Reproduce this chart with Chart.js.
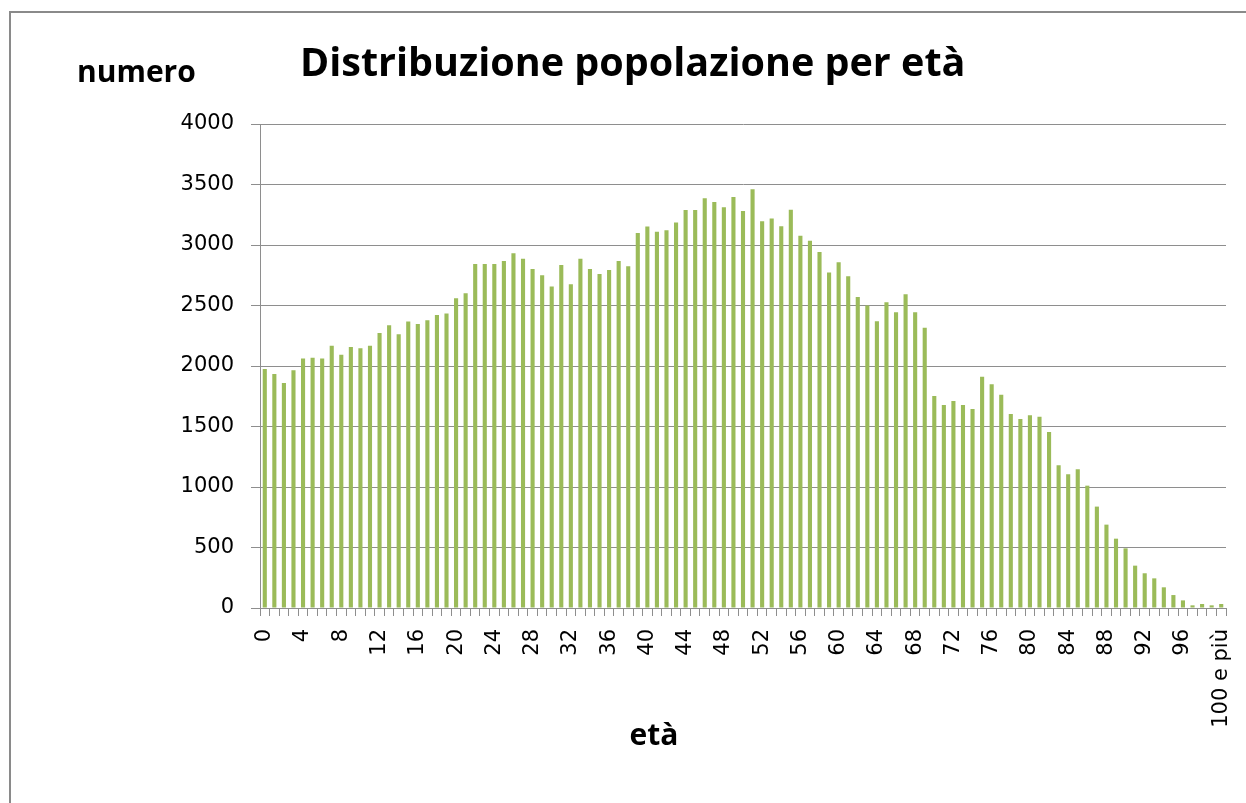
<!DOCTYPE html>
<html>
<head>
<meta charset="utf-8">
<title>Distribuzione popolazione per età</title>
<script src="https://cdn.jsdelivr.net/npm/chart.js@4"></script>
<style>
  html, body { margin: 0; padding: 0; background: #fff; }
  canvas { display: block; }
</style>
</head>
<body>
<canvas id="popChart" width="1246" height="803"></canvas>
<script>
// categories (age)
const ages = [
    '0', '1', '2', '3', '4', '5', '6', '7', '8', '9',
    '10', '11', '12', '13', '14', '15', '16', '17', '18', '19',
    '20', '21', '22', '23', '24', '25', '26', '27', '28', '29',
    '30', '31', '32', '33', '34', '35', '36', '37', '38', '39',
    '40', '41', '42', '43', '44', '45', '46', '47', '48', '49',
    '50', '51', '52', '53', '54', '55', '56', '57', '58', '59',
    '60', '61', '62', '63', '64', '65', '66', '67', '68', '69',
    '70', '71', '72', '73', '74', '75', '76', '77', '78', '79',
    '80', '81', '82', '83', '84', '85', '86', '87', '88', '89',
    '90', '91', '92', '93', '94', '95', '96', '97', '98', '99',
    '100 e più'
];

// number of people per age
const numero = [
    1975, 1934, 1860, 1964, 2061, 2069, 2061, 2168, 2094, 2157,
    2146, 2168, 2273, 2336, 2262, 2367, 2347, 2378, 2422, 2433,
    2559, 2601, 2843, 2843, 2843, 2868, 2931, 2887, 2802, 2749,
    2656, 2835, 2675, 2887, 2802, 2760, 2794, 2868, 2824, 3099,
    3152, 3110, 3121, 3185, 3289, 3289, 3386, 3356, 3312, 3397,
    3281, 3460, 3196, 3218, 3154, 3292, 3077, 3036, 2942, 2772,
    2857, 2741, 2570, 2499, 2369, 2526, 2444, 2592, 2444, 2317,
    1752, 1678, 1711, 1678, 1645, 1912, 1849, 1763, 1603, 1562,
    1592, 1581, 1455, 1179, 1105, 1146, 1011, 838, 689, 573,
    493, 350, 287, 245, 171, 107, 63, 22, 33, 22,
    33
];

// tick labels shown on the x axis
const shownTicks = [
    '0', '4', '8', '12', '16', '20', '24', '28', '32', '36', '40', '44', '48',
    '52', '56', '60', '64', '68', '72', '76', '80', '84', '88', '92', '96', '100 e più'
];

const gridGray = '#8e8e8e';

// white background, frame and the free texts
const decorations = {
    id: 'decorations',
    beforeDraw(chart) {
        const ctx = chart.ctx;
        ctx.save();
        ctx.fillStyle = '#fff';
        ctx.fillRect(0, 0, chart.width, chart.height);
        ctx.strokeStyle = '#8a8a8a';
        ctx.lineWidth = 2;
        ctx.strokeRect(10, 12, 1400, 1000);
        ctx.restore();
    },
    afterDraw(chart) {
        const ctx = chart.ctx;
        ctx.save();
        ctx.fillStyle = '#000';
        ctx.textBaseline = 'alphabetic';
        ctx.textAlign = 'left';
        ctx.font = 'bold 39.5px "Open Sans"';
        ctx.fillText('Distribuzione popolazione per età', 300, 76);
        ctx.font = 'bold 30px "Open Sans"';
        ctx.fillText('numero', 77, 82);
        ctx.textAlign = 'center';
        ctx.fillText('età', 654, 745);
        ctx.restore();
    }
};

function createPopChart() {
    const ctx = document.getElementById('popChart').getContext('2d');
    new Chart(ctx, {
        type: 'bar',
        data: {
            labels: ages,
            datasets: [{
                label: 'numero',
                data: numero,
                backgroundColor: '#9bbb59',
                borderWidth: 0,
                barPercentage: 0.43,
                categoryPercentage: 1.0
            }]
        },
        options: {
            responsive: false,
            animation: false,
            layout: {
                padding: { top: 124, right: 20, left: 0, bottom: 0 }
            },
            plugins: {
                legend: { display: false },
                title: { display: false },
                tooltip: { enabled: false }
            },
            scales: {
                x: {
                    offset: true,
                    afterFit: (s) => {
                        s.height = 195;
                        s.paddingLeft = 0;
                        s.paddingRight = 0;
                    },
                    grid: {
                        offset: true,
                        drawOnChartArea: false,
                        tickLength: 8,
                        color: gridGray
                    },
                    border: { color: gridGray },
                    ticks: {
                        autoSkip: false,
                        minRotation: 90,
                        maxRotation: 90,
                        padding: 13,
                        color: '#000',
                        font: { family: '"DejaVu Sans"', size: 21 },
                        callback: function (val, idx) {
                            const lab = ages[idx];
                            return shownTicks.includes(lab) ? lab : '';
                        }
                    }
                },
                y: {
                    min: 0,
                    max: 4000,
                    afterFit: (s) => { s.width = 260; },
                    grid: {
                        color: gridGray,
                        tickLength: 9
                    },
                    border: { color: gridGray },
                    ticks: {
                        stepSize: 500,
                        padding: 17,
                        color: '#000',
                        font: { family: '"DejaVu Sans"', size: 21 },
                        callback: (v) => String(v)
                    }
                }
            }
        },
        plugins: [decorations]
    });
}

Promise.all([
    document.fonts.load('bold 40px "Open Sans"'),
    document.fonts.load('21px "DejaVu Sans"')
]).catch(() => {}).then(createPopChart);
</script>
</body>
</html>
